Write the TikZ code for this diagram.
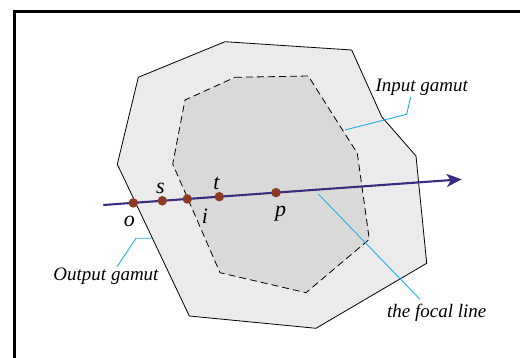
\documentclass[tikz,border=0pt]{standalone}
\usepackage{fontspec}
\setmainfont{Liberation Serif}
\usetikzlibrary{arrows.meta}
\definecolor{outgray}{HTML}{EBEBEB}
\definecolor{ingray}{HTML}{D9D9D9}
\definecolor{focalblue}{HTML}{3A2C80}
\definecolor{ptbrown}{HTML}{8E3B26}
\definecolor{leadcyan}{HTML}{1EB0E6}

\tikzset{
  gamutdot/.style={circle, fill=ptbrown, inner sep=0pt, minimum size=9.5pt},
  gamutlbl/.style={font=\fontsize{19}{22}\selectfont\itshape, inner sep=1pt},
  ptlbl/.style={font=\fontsize{22}{24}\selectfont\itshape, inner sep=1pt},
  leader/.style={leadcyan, line width=0.9pt}
}

\begin{document}
\begin{tikzpicture}[x=1pt, y=-1pt, >={Stealth[length=15pt, width=13pt, inset=4pt]}]

\useasboundingbox (0,0) rectangle (520,358);

% Frame (runs off the right and bottom edges)
\draw[black, line width=2.2pt] (14.5,360) -- (14.5,11.5) -- (522,11.5);

% --- Output gamut ---
\draw[fill=outgray, line width=0.8pt] (225,41.7) -- (351.7,50) -- (381.7,116.7)
  -- (416,156) -- (426.7,263.3) -- (316,328.3) -- (189.3,316) -- (117.3,164.3)
  -- (138.3,77.3) -- cycle;

% --- Input gamut (dashed) ---
\draw[fill=ingray, line width=0.8pt, dash pattern=on 7pt off 4pt] (235,77.3)
  -- (308.3,76) -- (357.3,153.3) -- (369.3,239.3) -- (306,292.7) -- (220,272.7)
  -- (172.7,164) -- (185,100) -- cycle;

% --- The focal line ---
\coordinate (fl-start) at (103.3,205);
\coordinate (fl-end) at (461.7,179.3);
\draw[focalblue, line width=2.1pt, ->] (fl-start) -- (fl-end);

% Points on the focal line
\node[gamutdot] (o) at (133.3,202.9) {};
\node[gamutdot] (s) at (162.3,200.8) {};
\node[gamutdot] (i) at (187.3,199.0) {};
\node[gamutdot] (t) at (219.3,196.7) {};
\node[gamutdot] (p) at (276.0,192.6) {};

\node[ptlbl] (o-lbl) at (129.3,221.5) {o};
\node[ptlbl] (s-lbl) at (160.5,188.0) {s};
\node[ptlbl] (i-lbl) at (205.0,216.0) {i};
\node[ptlbl] (t-lbl) at (216.5,183.0) {t};
\node[ptlbl] (p-lbl) at (280.7,213.5) {p};

% --- Labels and leaders ---
\node[gamutlbl] (in-lbl) at (421.7,87.3) {Input gamut};
\coordinate (in-bend) at (406.7,114.3);
\coordinate (in-end) at (345,130);
\draw[leader] ([xshift=-11pt]in-lbl.south) -- (in-bend) -- (in-end);

\node[gamutlbl] (out-lbl) at (106,276.7) {Output gamut};
\coordinate (out-bend) at (136,238.3);
\coordinate (out-end) at (151.7,238.3);
\draw[leader] ([xshift=10.7pt]out-lbl.north) -- (out-bend) -- (out-end);

\node[gamutlbl] (fl-lbl) at (436.7,313.3) {the focal line};
\coordinate (fl-pt) at (318.3,194);
\draw[leader] (fl-pt) -- ([xshift=-16.7pt, yshift=4pt]fl-lbl.north);

\end{tikzpicture}
\end{document}
